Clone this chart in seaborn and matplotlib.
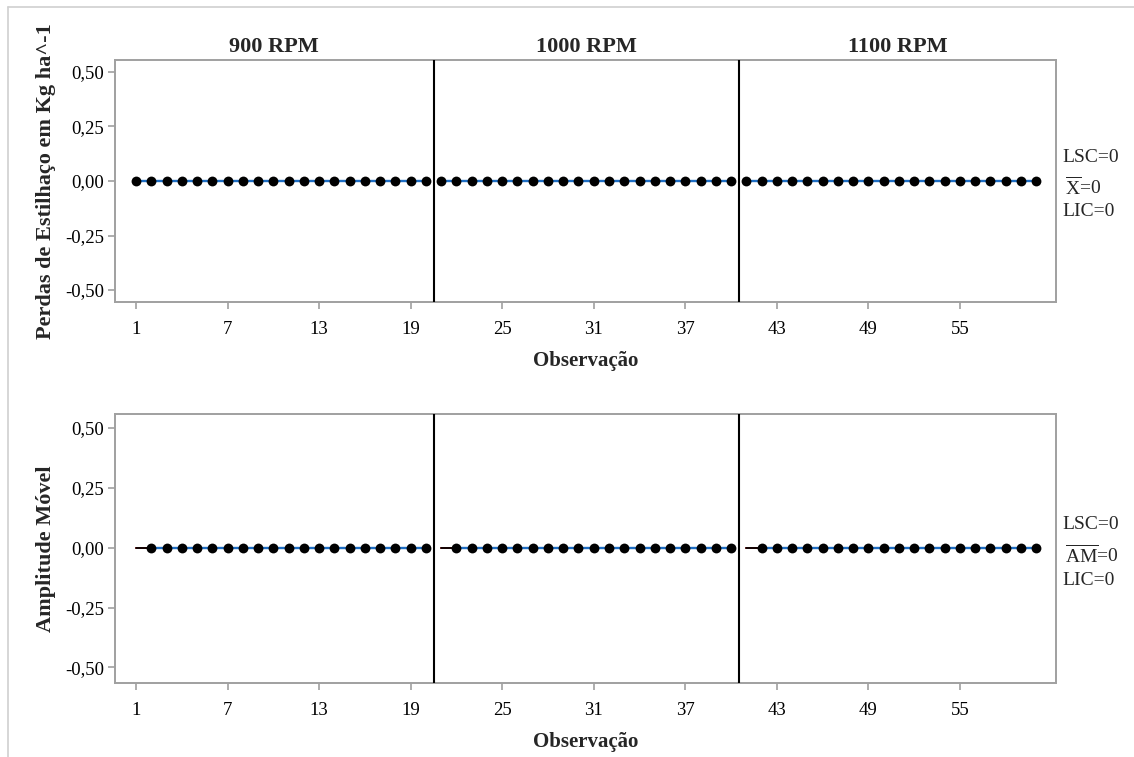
import numpy as np
import pandas as pd
import matplotlib
matplotlib.use("Agg")
import matplotlib.pyplot as plt
from matplotlib.lines import Line2D
from matplotlib.ticker import FuncFormatter
import seaborn as sns

# ---------------- data ----------------
stage_names = ["900 RPM", "1000 RPM", "1100 RPM"]
obs_900 = list(range(1, 21))
obs_1000 = list(range(21, 41))
obs_1100 = list(range(41, 61))
loss_900 = [0, 0, 0, 0, 0, 0, 0, 0, 0, 0, 0, 0, 0, 0, 0, 0, 0, 0, 0, 0]
loss_1000 = [0, 0, 0, 0, 0, 0, 0, 0, 0, 0, 0, 0, 0, 0, 0, 0, 0, 0, 0, 0]
loss_1100 = [0, 0, 0, 0, 0, 0, 0, 0, 0, 0, 0, 0, 0, 0, 0, 0, 0, 0, 0, 0]
mr_obs_900 = list(range(2, 21))
mr_obs_1000 = list(range(22, 41))
mr_obs_1100 = list(range(42, 61))
mr_900 = [0, 0, 0, 0, 0, 0, 0, 0, 0, 0, 0, 0, 0, 0, 0, 0, 0, 0, 0]
mr_1000 = [0, 0, 0, 0, 0, 0, 0, 0, 0, 0, 0, 0, 0, 0, 0, 0, 0, 0, 0]
mr_1100 = [0, 0, 0, 0, 0, 0, 0, 0, 0, 0, 0, 0, 0, 0, 0, 0, 0, 0, 0]
stage_start = [1, 21, 41]
x_center, x_lsc, x_lic = 0, 0, 0
mr_center, mr_lsc, mr_lic = 0, 0, 0
x_ticks = [1, 7, 13, 19, 25, 31, 37, 43, 49, 55]
y_ticks = [-0.50, -0.25, 0.00, 0.25, 0.50]
stage_bounds = [20.5, 40.5]

ind_df = pd.DataFrame({
    "obs": obs_900 + obs_1000 + obs_1100,
    "val": loss_900 + loss_1000 + loss_1100,
    "stage": [stage_names[0]] * 20 + [stage_names[1]] * 20 + [stage_names[2]] * 20,
})
mr_df = pd.DataFrame({
    "obs": mr_obs_900 + mr_obs_1000 + mr_obs_1100,
    "val": mr_900 + mr_1000 + mr_1100,
    "stage": [stage_names[0]] * 19 + [stage_names[1]] * 19 + [stage_names[2]] * 19,
})

# ---------------- style ----------------
sns.set_theme(style="white")
plt.rcParams["font.family"] = ["Liberation Serif", "DejaVu Serif"]
plt.rcParams["mathtext.fontset"] = "custom"
plt.rcParams["mathtext.rm"] = "Liberation Serif"
plt.rcParams["mathtext.it"] = "Liberation Serif:italic"
plt.rcParams["mathtext.bf"] = "Liberation Serif:bold"

W, H = 1134, 757
fig = plt.figure(figsize=(W / 100, H / 100), dpi=100)
fig.patch.set_facecolor("white")

ax1 = fig.add_axes([115 / W, 1 - 302 / H, (1056 - 115) / W, (302 - 60) / H])
ax2 = fig.add_axes([115 / W, 1 - 683 / H, (1056 - 115) / W, (683 - 414) / H])

blue = "#1f6fc5"
spine_gray = "#a0a0a0"
xlim = (-0.38, 61.3)


def draw_panel(ax, df, center, lsc, lic, ylim):
    for st, s_start in zip(stage_names, stage_start):
        sub = df[df["stage"] == st]
        last = sub["obs"].max()
        ax.plot([s_start, last], [lsc, lsc], color="#d62020", lw=1.2, zorder=1)
        ax.plot([s_start, last], [lic, lic], color="#d62020", lw=1.2, zorder=1)
        ax.plot([s_start, last], [center, center], color="black", lw=1.3, zorder=2)
        sns.lineplot(data=sub, x="obs", y="val", color=blue, lw=1.7, ax=ax,
                     zorder=3, legend=False)
        sns.scatterplot(data=sub, x="obs", y="val", color="black", s=50,
                        edgecolor="black", linewidth=0, ax=ax, zorder=4, legend=False)
    for b in stage_bounds:
        ax.axvline(b, color="black", lw=1.5, zorder=5)
    ax.set_xlim(*xlim)
    ax.set_ylim(*ylim)
    ax.set_xticks(x_ticks)
    ax.set_yticks(y_ticks)
    ax.yaxis.set_major_formatter(FuncFormatter(lambda v, p: f"{v:.2f}".replace(".", ",")))
    ax.tick_params(axis="both", which="major", direction="out", length=5, width=1.2,
                   color=spine_gray, labelsize=13.5, labelcolor="black", pad=3,
                   bottom=True, left=True)
    ax.tick_params(axis="x", pad=9)
    for sp in ax.spines.values():
        sp.set_color(spine_gray)
        sp.set_linewidth(1.4)
    ax.set_xlabel("Observação", fontsize=15, fontweight="bold", labelpad=9)


draw_panel(ax1, ind_df, x_center, x_lsc, x_lic, (-0.555, 0.555))
draw_panel(ax2, mr_df, mr_center, mr_lsc, mr_lic, (-0.565, 0.558))

ax1.set_ylabel("Perdas de Estilhaço em Kg ha^-1", fontsize=16, fontweight="bold")
ax2.set_ylabel("Amplitude Móvel", fontsize=16, fontweight="bold")
ax1.yaxis.set_label_coords(-0.063, 0.5)
ax2.yaxis.set_label_coords(-0.063, 0.5)

# stage titles
bounds = [xlim[0]] + stage_bounds + [xlim[1]]
for i, name in enumerate(stage_names):
    ax1.text((bounds[i] + bounds[i + 1]) / 2, 1.014, name, transform=ax1.get_xaxis_transform(),
             ha="center", va="bottom", fontsize=16, fontweight="bold")

# right-side limit labels
def right_labels(ax, y0, labels):
    for dy, txt, dx in labels:
        ax.annotate(txt, xy=(1, y0), xycoords=("axes fraction", "data"),
                    xytext=(6 + dx, dy), textcoords="offset pixels",
                    ha="left", va="center", fontsize=14)

right_labels(ax1, x_center, [(23, f"LSC={x_lsc}", 0),
                             (-6, r"$\mathregular{\overline{X}}$" + f"={x_center}", 3),
                             (-30, f"LIC={x_lic}", 0)])
right_labels(ax2, mr_center, [(23, f"LSC={mr_lsc}", 0),
                              (-8, r"$\mathregular{\overline{AM}}$" + f"={mr_center}", 3),
                              (-33, f"LIC={mr_lic}", 0)])

# outer frame (top and left only)
fig.add_artist(Line2D([8 / W, 1], [1 - 7 / H, 1 - 7 / H], color="#d0d0d0", lw=1.2,
                      transform=fig.transFigure))
fig.add_artist(Line2D([8 / W, 8 / W], [0, 1 - 7 / H], color="#d0d0d0", lw=1.2,
                      transform=fig.transFigure))

fig.savefig("out.png", dpi=100, facecolor="white")
